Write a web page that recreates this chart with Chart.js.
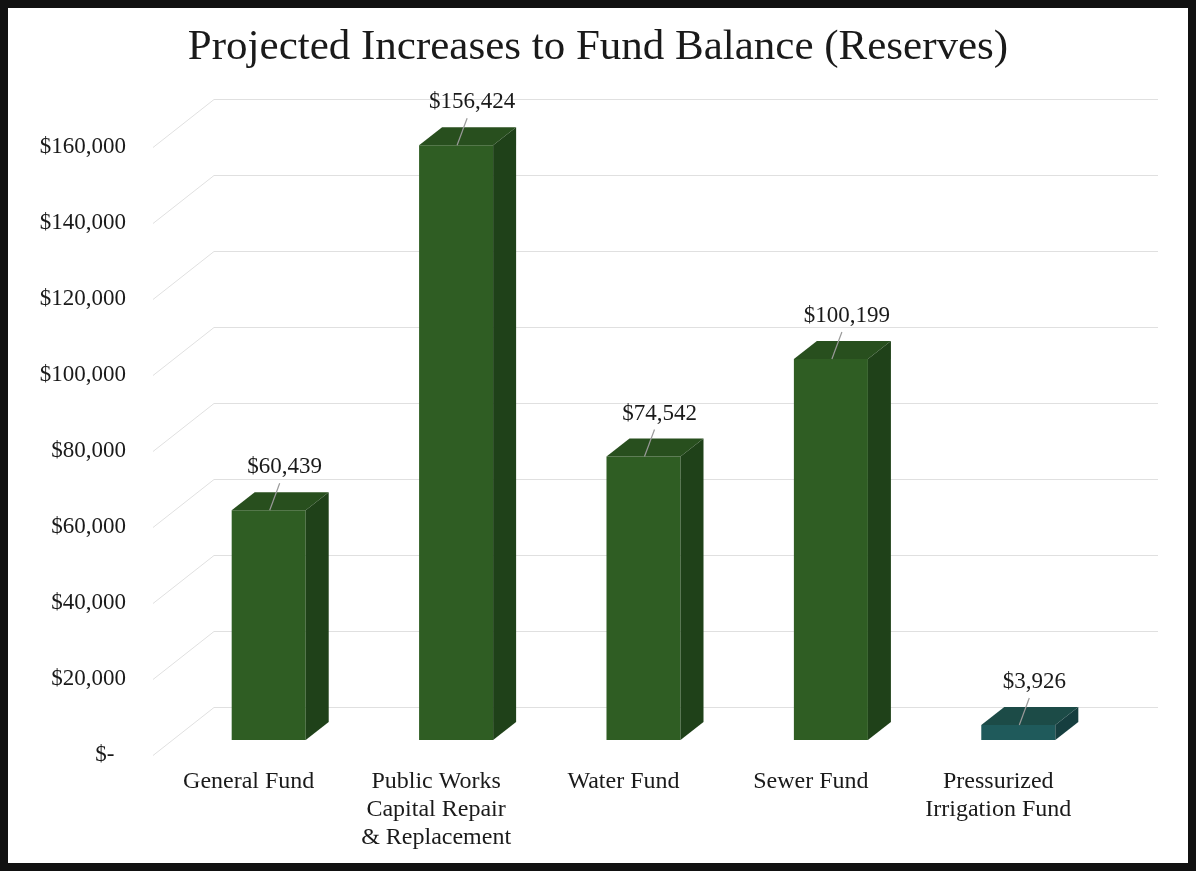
<!DOCTYPE html>
<html>
<head>
<meta charset="utf-8">
<script src="https://cdn.jsdelivr.net/npm/chart.js@4"></script>
<style>
  html, body { margin: 0; padding: 0; background: #fff; }
  canvas { display: block; }
</style>
</head>
<body>
<canvas id="fundChart" width="1196" height="871"></canvas>
<script>
// chart data
const categories = [
  ['General Fund'],
  ['Public Works', 'Capital Repair', '& Replacement'],
  ['Water Fund'],
  ['Sewer Fund'],
  ['Pressurized', 'Irrigation Fund']
];
const reserveIncreases = [60439, 156424, 74542, 100199, 3926];
const yTicks = [0, 20000, 40000, 60000, 80000, 100000, 120000, 140000, 160000];

const frontColors = ['#2f5d23', '#2f5d23', '#2f5d23', '#2f5d23', '#1f5a5b'];
const topColors = ['#284f1e', '#284f1e', '#284f1e', '#284f1e', '#1c4b47'];
const sideColors = ['#1f4119', '#1f4119', '#1f4119', '#1f4119', '#163e3f'];

const FONT = "'Liberation Serif', 'Times New Roman', serif";
const DX = 23, DY = 18;

const money = v => v === 0 ? '$-  ' : '$' + v.toLocaleString('en-US');

// back wall grid + left wall diagonals
const gridPlugin = {
  id: 'grid3d',
  beforeDatasetsDraw(chart) {
    const ctx = chart.ctx;
    const y = chart.scales.y;
    ctx.save();
    ctx.strokeStyle = '#e0e0e0';
    ctx.lineWidth = 1;
    yTicks.forEach(t => {
      const py = Math.round(y.getPixelForValue(t)) + 0.5;
      ctx.beginPath();
      ctx.moveTo(153, py + 15);
      ctx.lineTo(214, py - 33);
      ctx.lineTo(1158, py - 33);
      ctx.stroke();
    });
    ctx.restore();
  }
};

// top/side faces, value labels, frame
const barPlugin = {
  id: 'bars3d',
  afterDatasetsDraw(chart) {
    const ctx = chart.ctx;
    const meta = chart.getDatasetMeta(0);
    ctx.save();
    meta.data.forEach((bar, i) => {
      const l = bar.x - bar.width / 2, r = bar.x + bar.width / 2;
      const top = bar.y, base = bar.base;
      ctx.fillStyle = topColors[i];
      ctx.beginPath();
      ctx.moveTo(l, top);
      ctx.lineTo(l + DX, top - DY);
      ctx.lineTo(r + DX, top - DY);
      ctx.lineTo(r, top);
      ctx.closePath();
      ctx.fill();
      ctx.fillStyle = sideColors[i];
      ctx.beginPath();
      ctx.moveTo(r, top);
      ctx.lineTo(r + DX, top - DY);
      ctx.lineTo(r + DX, base - DY);
      ctx.lineTo(r, base);
      ctx.closePath();
      ctx.fill();

      // leader line + value
      ctx.strokeStyle = '#9a9a9a';
      ctx.lineWidth = 1.2;
      ctx.beginPath();
      ctx.moveTo(bar.x + 11, top - 27);
      ctx.lineTo(bar.x + 1, top);
      ctx.stroke();
      ctx.fillStyle = '#1a1a1a';
      ctx.font = '23px ' + FONT;
      ctx.textAlign = 'center';
      ctx.textBaseline = 'middle';
      ctx.fillText(money(reserveIncreases[i]), bar.x + 16, top - 43);
    });
    ctx.restore();
  },
  afterDraw(chart) {
    const ctx = chart.ctx;
    ctx.save();
    ctx.strokeStyle = '#111';
    ctx.lineWidth = 16;
    ctx.strokeRect(0, 0, chart.width, chart.height);
    ctx.restore();
  }
};

new Chart(document.getElementById('fundChart'), {
  type: 'bar',
  data: {
    labels: categories,
    datasets: [{
      data: reserveIncreases,
      backgroundColor: frontColors,
      borderWidth: 0,
      categoryPercentage: 1,
      barPercentage: 0.395
    }]
  },
  options: {
    responsive: false,
    animation: false,
    devicePixelRatio: 1,
    layout: { padding: { top: 10, right: 0, bottom: 0, left: 0 } },
    plugins: {
      legend: { display: false },
      tooltip: { enabled: false },
      title: {
        display: true,
        text: 'Projected Increases to Fund Balance (Reserves)',
        color: '#1a1a1a',
        font: { family: FONT, size: 43, weight: 'normal', lineHeight: 1.2 },
        padding: { top: 12, bottom: 58 }
      }
    },
    scales: {
      x: {
        grid: { display: false, drawTicks: false, tickLength: 0 },
        border: { display: false },
        ticks: {
          color: '#1a1a1a',
          font: { family: FONT, size: 24, lineHeight: 1.17 },
          padding: 28,
          labelOffset: -20,
          maxRotation: 0,
          autoSkip: false
        },
        afterFit: s => { s.height = 131; }
      },
      y: {
        min: 0,
        max: 160000,
        grid: { display: false, drawTicks: false, tickLength: 0 },
        border: { display: false },
        afterBuildTicks: s => { s.ticks = yTicks.map(v => ({ value: v })); },
        ticks: {
          color: '#1a1a1a',
          font: { family: FONT, size: 23 },
          padding: 49,
          labelOffset: 15,
          callback: v => money(v)
        },
        afterFit: s => { s.width = 175; }
      },
      // empty right-hand axis, only reserves space on the right
      yRight: {
        position: 'right',
        min: 0,
        max: 160000,
        grid: { display: false, drawTicks: false },
        border: { display: false },
        ticks: { display: false },
        afterFit: s => { s.width = 84; }
      }
    }
  },
  plugins: [gridPlugin, barPlugin]
});
</script>
</body>
</html>
